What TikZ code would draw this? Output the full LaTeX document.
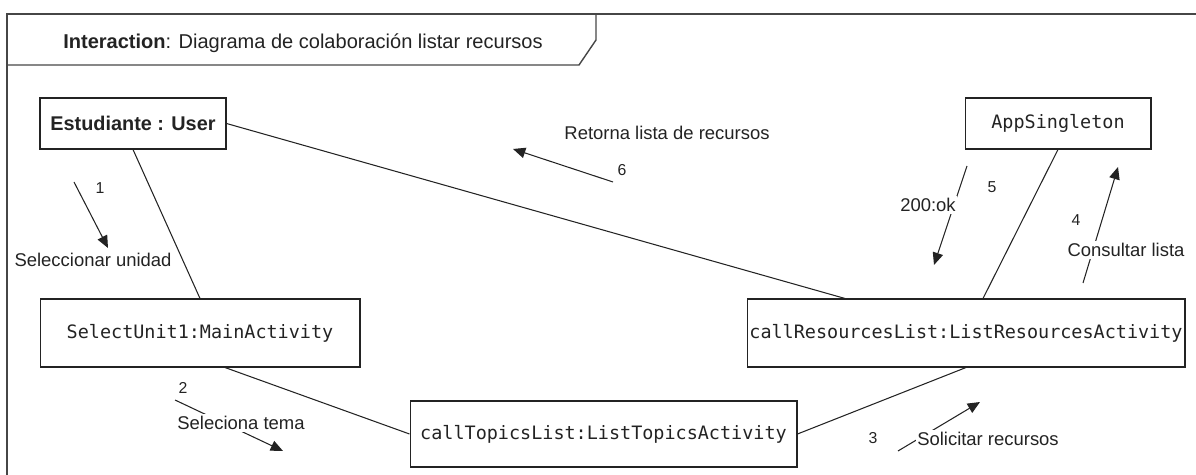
\documentclass[tikz,border=0pt]{standalone}
\usepackage{fontspec}
\setmainfont{Liberation Sans}
\setmonofont{DejaVu Sans Mono}
\usepackage{tikz}
\usetikzlibrary{arrows.meta, calc}
\definecolor{inkgray}{RGB}{35, 35, 35}
\definecolor{framegray}{RGB}{70, 70, 70}
\tikzset{
  obj/.style={draw, line width=0.6pt, inner sep=0pt, font=\fontsize{10.5}{12}\selectfont\ttfamily},
  link/.style={line width=0.6pt},
  msg/.style={line width=0.6pt, -{Triangle[length=7pt, width=6pt]}},
  lbl/.style={inner sep=1pt, font=\fontsize{10.5}{12}\selectfont},
  num/.style={inner sep=0pt, font=\fontsize{9}{10}\selectfont}
}

\begin{document}
\begin{tikzpicture}[x=0.02cm, y=-0.02cm, inkgray]
  \useasboundingbox (0,0) rectangle (1196,475);

  % Interaction frame
  \draw[line width=0.8pt, framegray] (7,475) -- (7,14) -- (1196,14);
  \draw[line width=0.8pt, framegray] (7,65) -- (579,65) -- (596,40) -- (596,14);
  \node[lbl, font=\fontsize{11.4}{13}\selectfont] (title) at (303,43)
    {\textbf{Interaction}: Diagrama de colaboración listar recursos};

  % Objects
  \node[obj, minimum width=3.72cm, minimum height=1.02cm,
        font=\fontsize{11.3}{13}\selectfont\bfseries] (user) at (133,123.5) {Estudiante : User};
  \node[obj, minimum width=3.72cm, minimum height=1.02cm] (app) at (1058,123.5) {AppSingleton};
  \node[obj, minimum width=6.4cm, minimum height=1.36cm] (main) at (200,333) {SelectUnit1:MainActivity};
  \node[obj, minimum width=8.76cm, minimum height=1.36cm] (res) at (966,333) {callResourcesList:ListResourcesActivity};
  \node[obj, minimum width=7.74cm, minimum height=1.32cm] (topics) at (603.5,434) {callTopicsList:ListTopicsActivity};

  % Links
  \draw[link] (user.south) -- (main.north);
  \draw[link] (user.east) -- ($(res.north)+(-121,0)$);
  \draw[link] (app.south) -- ($(res.north)+(17,0)$);
  \draw[link] ($(main.south)+(25,0)$) -- (topics.west);
  \draw[link] (topics.east) -- (res.south);

  % Message 1
  \coordinate (m1a) at (74,182);
  \coordinate (m1b) at (108,248);
  \draw[msg] (m1a) -- (m1b);
  \node[num] (n1) at (100,188) {1};
  \node[lbl] (t1) at (93,260) {Seleccionar unidad};

  % Message 2
  \coordinate (m2a) at (175,400);
  \coordinate (m2b) at (283,451);
  \draw[msg] (m2a) -- (m2b);
  \node[num] (n2) at (183,388) {2};
  \node[lbl, fill=white] (t2) at (241,423) {Seleciona tema};

  % Message 3
  \coordinate (m3a) at (898,451);
  \coordinate (m3b) at (980,402);
  \draw[msg] (m3a) -- (m3b);
  \node[num] (n3) at (873,438) {3};
  \node[lbl, fill=white] (t3) at (988,439) {Solicitar recursos};

  % Message 4
  \coordinate (m4a) at (1083,283);
  \coordinate (m4b) at (1118,167);
  \draw[msg] (m4a) -- (m4b);
  \node[num] (n4) at (1076,220) {4};
  \node[lbl, fill=white] (t4) at (1126,250) {Consultar lista};

  % Message 5
  \coordinate (m5a) at (967,166);
  \coordinate (m5b) at (934,265);
  \draw[msg] (m5a) -- (m5b);
  \node[num] (n5) at (992,187) {5};
  \node[lbl, fill=white] (t5) at (928,205) {200:ok};

  % Message 6
  \coordinate (m6a) at (613,182);
  \coordinate (m6b) at (513,149);
  \draw[msg] (m6a) -- (m6b);
  \node[num] (n6) at (622,170) {6};
  \node[lbl] (t6) at (667,133) {Retorna lista de recursos};
\end{tikzpicture}
\end{document}
